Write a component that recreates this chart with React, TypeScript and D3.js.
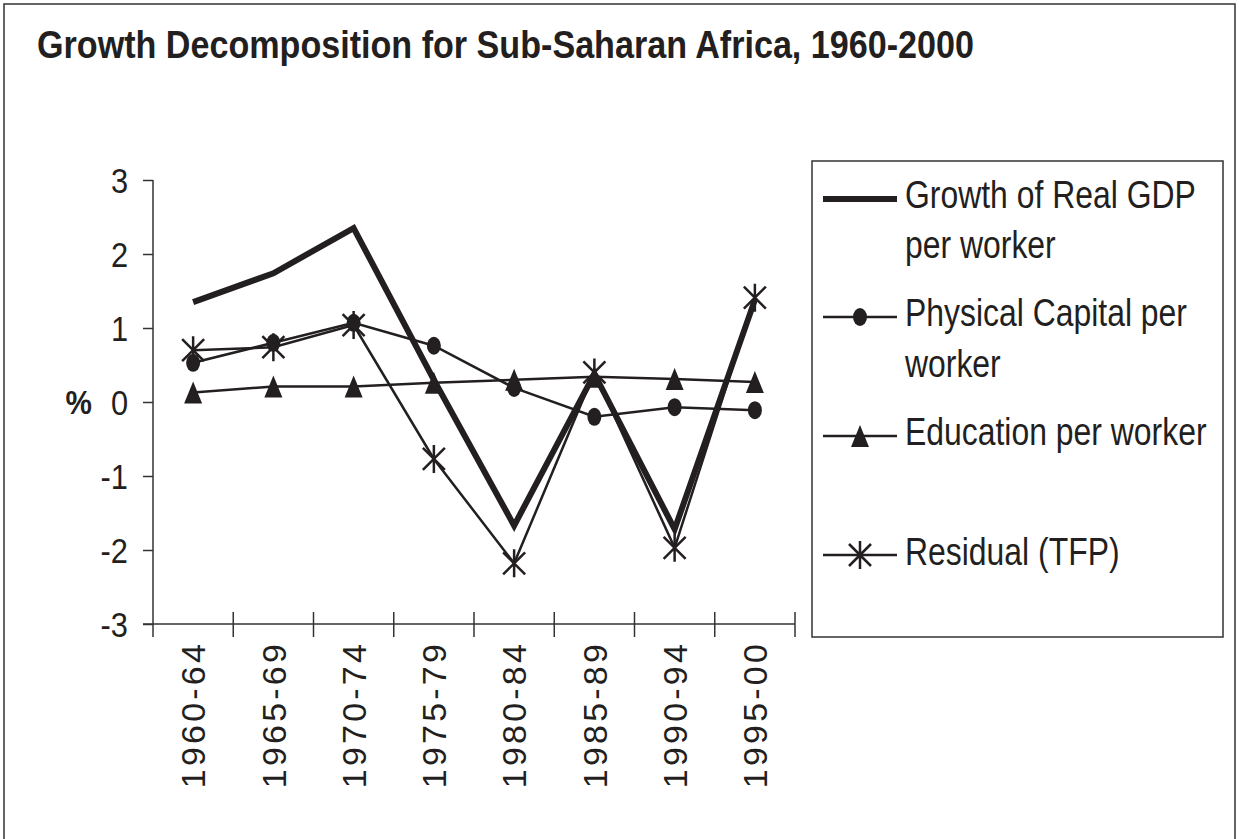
import React, { useEffect, useRef } from 'react';
import * as d3 from 'd3';

const categories = ['1960-64', '1965-69', '1970-74', '1975-79', '1980-84', '1985-89', '1990-94', '1995-00'];
const gdpPerWorker = [1.35, 1.74, 2.35, 0.3, -1.67, 0.38, -1.72, 1.38];
const physicalCapital = [0.53, 0.8, 1.07, 0.76, 0.19, -0.2, -0.07, -0.11];
const education = [0.13, 0.21, 0.21, 0.26, 0.3, 0.34, 0.31, 0.27];
const residual = [0.7, 0.74, 1.04, -0.77, -2.18, 0.4, -1.97, 1.41];
const yTicks = [-3, -2, -1, 0, 1, 2, 3];

type Marker = 'none' | 'circle' | 'triangle' | 'star';

const series: { label: string[]; values: number[]; marker: Marker; width: number }[] = [
  { label: ['Growth of Real GDP', 'per worker'], values: gdpPerWorker, marker: 'none', width: 6 },
  { label: ['Physical Capital per', 'worker'], values: physicalCapital, marker: 'circle', width: 2.5 },
  { label: ['Education per worker'], values: education, marker: 'triangle', width: 2.5 },
  { label: ['Residual (TFP)'], values: residual, marker: 'star', width: 2.5 },
];

const FONT = "'Liberation Sans', Arial, sans-serif";
const INK = '#231f20';

function drawMarker(g: d3.Selection<SVGGElement, unknown, null, undefined>, type: Marker, cx: number, cy: number) {
  if (type === 'circle') {
    g.append('ellipse').attr('cx', cx).attr('cy', cy).attr('rx', 7).attr('ry', 9).attr('fill', INK);
  } else if (type === 'triangle') {
    g.append('path')
      .attr('d', `M${cx},${cy - 11}L${cx + 9},${cy + 11}L${cx - 9},${cy + 11}Z`)
      .attr('fill', INK);
  } else if (type === 'star') {
    g.append('path')
      .attr('d', `M${cx},${cy - 14}V${cy + 14}M${cx - 11},${cy - 11}L${cx + 11},${cy + 11}M${cx - 11},${cy + 11}L${cx + 11},${cy - 11}`)
      .attr('stroke', INK)
      .attr('stroke-width', 2.5)
      .attr('fill', 'none');
  }
}

export default function App() {
  const svgRef = useRef<SVGSVGElement>(null);

  useEffect(() => {
    if (!svgRef.current) return;
    const svg = d3.select(svgRef.current);
    svg.selectAll('*').remove();

    const left = 153;
    const right = 795;
    const top = 180;
    const bottom = 624;

    const x = d3.scaleBand().domain(categories).range([left, right]);
    const edge = d3.scaleLinear().domain([0, categories.length]).range([left, right]);
    const y = d3.scaleLinear().domain([-3, 3]).range([bottom, top]);
    const cx = (c: string) => (x(c) as number) + x.bandwidth() / 2;

    const root = svg.append('g');

    // outer frame
    root.append('rect')
      .attr('x', 4).attr('y', 4).attr('width', 1231).attr('height', 900)
      .attr('fill', 'white').attr('stroke', '#333').attr('stroke-width', 1.5);

    root.append('text')
      .attr('transform', 'translate(37,58) scale(0.875,1)')
      .attr('font-family', FONT).attr('font-weight', 'bold').attr('font-size', 39)
      .attr('fill', INK)
      .text('Growth Decomposition for Sub-Saharan Africa, 1960-2000');

    // y axis
    const yAxis = root.append('g')
      .attr('transform', `translate(${left},0)`)
      .call(d3.axisLeft(y).tickValues(yTicks).tickSize(10).tickPadding(15).tickSizeOuter(0).tickFormat((d) => String(d)));
    yAxis.select('.domain').remove();
    yAxis.selectAll('line').attr('stroke', '#333').attr('stroke-width', 1.5);
    yAxis.selectAll<SVGTextElement, number>('text')
      .attr('font-family', FONT).attr('font-size', 35).attr('fill', INK).attr('dy', '0.36em')
      .attr('x', null)
      .attr('transform', 'translate(-25,0) scale(0.88,1)');

    root.append('line')
      .attr('x1', left).attr('x2', left).attr('y1', top).attr('y2', bottom + 13)
      .attr('stroke', '#333').attr('stroke-width', 1.5);

    root.append('text')
      .attr('transform', `translate(92,${y(0)}) scale(0.9,1)`)
      .attr('dy', '0.36em')
      .attr('text-anchor', 'end')
      .attr('font-family', FONT).attr('font-weight', 'bold').attr('font-size', 33)
      .attr('fill', INK).text('%');

    // x axis
    root.append('line')
      .attr('x1', left - 10).attr('x2', right).attr('y1', bottom).attr('y2', bottom)
      .attr('stroke', '#333').attr('stroke-width', 1.5);
    root.append('g').selectAll('line')
      .data(d3.range(1, categories.length + 1))
      .join('line')
      .attr('x1', (d) => edge(d)).attr('x2', (d) => edge(d))
      .attr('y1', bottom - 12).attr('y2', bottom + 13)
      .attr('stroke', '#333').attr('stroke-width', 1.5);

    root.append('g').selectAll('text')
      .data(categories)
      .join('text')
      .attr('transform', (d) => `translate(${cx(d)},${bottom + 17}) rotate(-90)`)
      .attr('text-anchor', 'end')
      .attr('dy', '0.36em')
      .attr('font-family', FONT).attr('font-size', 34)
      .attr('letter-spacing', 3.2)
      .attr('fill', INK)
      .text((d) => d);

    // series
    const line = d3.line<number>()
      .x((_, i) => cx(categories[i]))
      .y((d) => y(d));

    const plot = root.append('g');
    series.forEach((s) => {
      plot.append('path')
        .attr('d', line(s.values))
        .attr('fill', 'none')
        .attr('stroke', INK)
        .attr('stroke-width', s.width)
        .attr('stroke-linejoin', 'miter');
      const mg = plot.append('g');
      s.values.forEach((v, i) => drawMarker(mg, s.marker, cx(categories[i]), y(v)));
    });

    // legend
    const lg = root.append('g');
    lg.append('rect')
      .attr('x', 812).attr('y', 161).attr('width', 411).attr('height', 476)
      .attr('fill', 'white').attr('stroke', '#333').attr('stroke-width', 1.5);

    const sampleY = [199, 317, 436, 555];
    const textY = [[208, 258], [326, 377], [445], [565]];
    series.forEach((s, i) => {
      lg.append('line')
        .attr('x1', 823).attr('x2', 897)
        .attr('y1', sampleY[i]).attr('y2', sampleY[i])
        .attr('stroke', INK).attr('stroke-width', s.width);
      const mg = lg.append('g');
      drawMarker(mg, s.marker, 860, sampleY[i]);
      s.label.forEach((t, j) => {
        lg.append('text')
          .attr('transform', `translate(905,${textY[i][j]}) scale(0.84,1)`)
          .attr('font-family', FONT).attr('font-size', 38)
          .attr('fill', INK).text(t);
      });
    });
  }, []);

  return (
    <svg
      ref={svgRef}
      width={1239}
      height={839}
      style={{ position: 'absolute', left: 0, top: 0, background: 'white' }}
    />
  );
}
